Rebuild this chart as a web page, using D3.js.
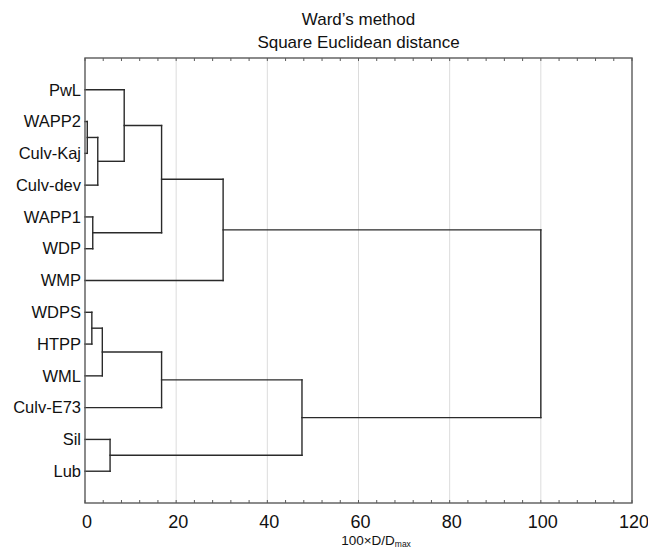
<!DOCTYPE html>
<html><head><meta charset="utf-8">
<script src="https://cdn.jsdelivr.net/npm/d3@7"></script>
<style>body{margin:0;background:#fff}svg{display:block}text{font-family:"Liberation Sans",Arial,sans-serif;fill:#111}</style>
</head><body><svg id="c" width="648" height="549"></svg>
<script>
const leaves = ["PwL","WAPP2","Culv-Kaj","Culv-dev","WAPP1","WDP","WMP","WDPS","HTPP","WML","Culv-E73","Sil","Lub"];
// linkage: [childA, childB, height]; new cluster ids start at leaves.length
const mergeA = [1, 13, 0, 4, 15, 17, 7, 19, 20, 11, 21, 18];
const mergeB = [2, 3, 14, 5, 16, 6, 8, 9, 10, 12, 22, 23];
const mergeH = [0.5, 2.8, 8.6, 1.7, 16.8, 30.3, 1.5, 3.8, 16.8, 5.5, 47.6, 100];
const majorTicks = [0, 20, 40, 60, 80, 100, 120];
const gridTicks = [20, 40, 60, 80, 100];
const minorTicks = d3.range(0, 121, 4);
const titleLines = ["Ward\u2019s method", "Square Euclidean distance"];

const svg = d3.select("#c");
const L = 85, R = 632, T = 58, B = 503;
const x = d3.scaleLinear().domain([0, 120]).range([L, R]);
const y = d3.scalePoint().domain(leaves).range([T, B]).padding(1);

// grid
svg.append("g").selectAll("line").data(gridTicks).join("line")
  .attr("x1", d => x(d)).attr("x2", d => x(d)).attr("y1", T).attr("y2", B)
  .attr("stroke", "#dcdcdc").attr("stroke-width", 1);

// positions
const pos = leaves.map(l => ({y: y(l), h: 0}));
const lines = [];
mergeA.forEach((a, i) => {
  const b = mergeB[i], h = mergeH[i];
  const pa = pos[a], pb = pos[b];
  lines.push([x(pa.h), pa.y, x(h), pa.y]);
  lines.push([x(pb.h), pb.y, x(h), pb.y]);
  lines.push([x(h), pa.y, x(h), pb.y]);
  pos.push({y: (pa.y + pb.y) / 2, h});
});
svg.append("g").selectAll("line").data(lines).join("line")
  .attr("x1", d => d[0]).attr("y1", d => d[1]).attr("x2", d => d[2]).attr("y2", d => d[3])
  .attr("stroke", "#2a2a2a").attr("stroke-width", 1.4).attr("stroke-linecap", "square");

// frame
svg.append("rect").attr("x", L).attr("y", T).attr("width", R - L).attr("height", B - T)
  .attr("fill", "none").attr("stroke", "#5a5a5a").attr("stroke-width", 1.4);

// minor ticks top & bottom (inside)
const tg = svg.append("g").attr("stroke", "#5a5a5a").attr("stroke-width", 1);
tg.selectAll(".tb").data(minorTicks).join("line")
  .attr("x1", d => x(d)).attr("x2", d => x(d)).attr("y1", B).attr("y2", B - 3);
tg.selectAll(".tt").data(minorTicks).join("line")
  .attr("x1", d => x(d)).attr("x2", d => x(d)).attr("y1", T).attr("y2", T + 3);

// bottom axis labels
svg.append("g").selectAll("text").data(majorTicks).join("text")
  .attr("x", d => x(d) + 2).attr("y", 528).attr("text-anchor", "middle")
  .attr("font-size", 18).text(d => d);

// leaf labels
svg.append("g").selectAll("text").data(leaves).join("text")
  .attr("x", 81).attr("y", d => y(d)).attr("dy", "0.35em").attr("text-anchor", "end")
  .attr("font-size", 16.5).text(d => d);

// title
svg.append("g").selectAll("text").data(titleLines).join("text")
  .attr("x", (L + R) / 2).attr("y", (d, i) => 25 + i * 23).attr("text-anchor", "middle")
  .attr("font-size", 17).text(d => d);

// axis title
const at = svg.append("text").attr("x", 376).attr("y", 545).attr("text-anchor", "middle").attr("font-size", 13.5);
at.append("tspan").text("100\u00d7D/D");
at.append("tspan").attr("font-size", 8.5).attr("dy", 2).text("max");
</script></body></html>
